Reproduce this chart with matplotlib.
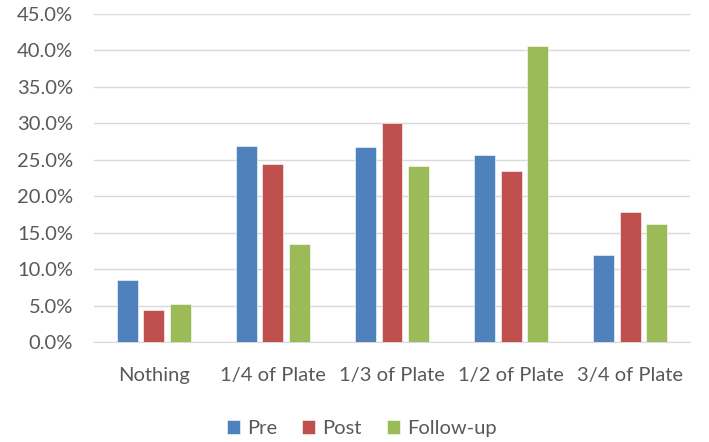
import numpy as np
import matplotlib.pyplot as plt
from matplotlib.ticker import PercentFormatter

# Portion sizes reported at each survey point (percent of respondents)
categories = ["Nothing", "1/4 of Plate", "1/3 of Plate", "1/2 of Plate", "3/4 of Plate"]
pre = [8.6, 26.9, 26.8, 25.6, 11.9]
post = [4.4, 24.4, 30.0, 23.4, 17.8]
follow_up = [5.3, 13.5, 24.2, 40.6, 16.2]

series = [("Pre", pre, "#4F81BD"),
          ("Post", post, "#C0504D"),
          ("Follow-up", follow_up, "#9BBB59")]

plt.rcParams["font.family"] = ["Lato", "DejaVu Sans"]
fs = 14.5

fig = plt.figure(figsize=(7.09, 4.42), dpi=100)
ax = fig.add_axes([0.1326, 0.2256, 0.8406, 0.7432])

x = np.arange(len(categories))
width = 0.176
step = 0.222
for i, (name, vals, color) in enumerate(series):
    ax.bar(x + (i - 1) * step, vals, width, color=color, label=name,
           edgecolor="white", linewidth=0.4, zorder=3)

ax.set_ylim(0, 45)
ax.set_xlim(-0.5, len(categories) - 0.5)
ax.set_yticks(np.arange(0, 46, 5))
ax.yaxis.set_major_formatter(PercentFormatter(decimals=1))
ax.set_xticks(x)
ax.set_xticklabels(categories)

ax.grid(axis="y", color="#D9D9D9", linewidth=1, zorder=0)
for side in ["top", "right", "left"]:
    ax.spines[side].set_visible(False)
ax.spines["bottom"].set_color("#D9D9D9")
ax.tick_params(length=0, labelsize=fs, colors="#595959")
ax.tick_params(axis="y", pad=15)
ax.tick_params(axis="x", pad=18)

fig.legend(loc="center", bbox_to_anchor=(0.51, 0.03), ncol=3,
           frameon=False, fontsize=fs, labelcolor="#595959",
           handlelength=0.65, handleheight=0.65, handletextpad=0.35,
           columnspacing=1.25, borderpad=0, borderaxespad=0)

fig.savefig("out.png", dpi=100)
